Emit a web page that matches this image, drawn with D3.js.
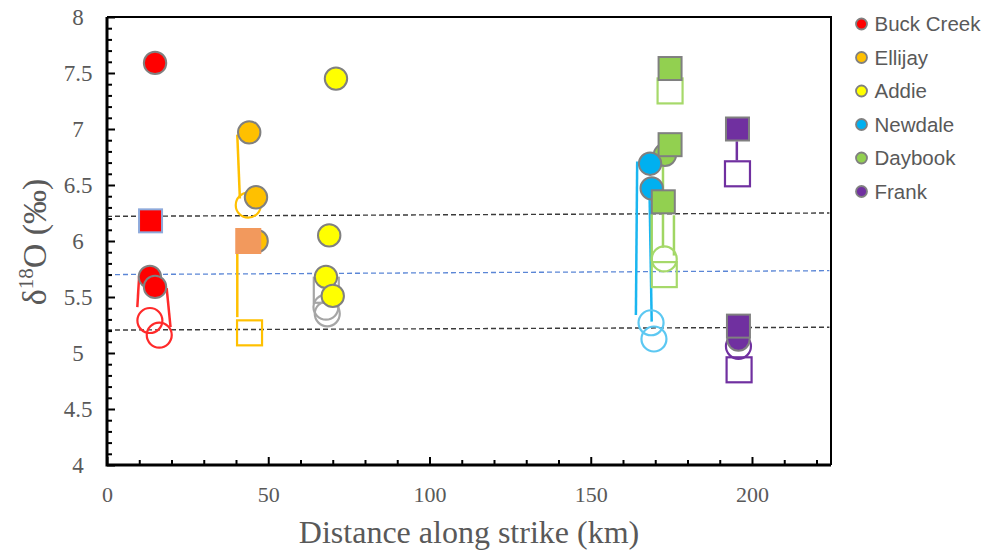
<!DOCTYPE html>
<html>
<head>
<meta charset="utf-8">
<script src="https://cdn.jsdelivr.net/npm/d3@7"></script>
<style>
  html, body { margin: 0; padding: 0; background: #fff; }
  svg { display: block; }
</style>
</head>
<body>
<svg id="chart" width="988" height="550"></svg>
<script>
// Plutons, in legend order
const plutons = ["Buck Creek", "Ellijay", "Addie", "Newdale", "Daybook", "Frank"];

// Filled circles: [pluton, distance (km), δ18O (‰)]
const filledCircles = [
  ["Daybook", 173.0, 6.77],
  ["Buck Creek", 14.9, 7.59],
  ["Buck Creek", 13.3, 5.68],
  ["Buck Creek", 14.9, 5.59],
  ["Ellijay", 44.1, 6.97],
  ["Ellijay", 46.2, 6.39],
  ["Ellijay", 46.4, 6.00],
  ["Addie", 71.0, 7.45],
  ["Addie", 68.9, 6.05],
  ["Addie", 67.9, 5.68],
  ["Addie", 70.0, 5.51],
  ["Newdale", 168.4, 6.69],
  ["Newdale", 168.9, 6.47],
  ["Frank", 195.8, 5.12]
];

// Filled squares
const filledSquares = [
  ["Buck Creek", 13.5, 6.18],
  ["Ellijay", 43.8, 6.00],
  ["Daybook", 174.6, 7.54],
  ["Daybook", 174.6, 6.86],
  ["Daybook", 172.5, 6.35],
  ["Frank", 195.5, 7.00],
  ["Frank", 195.8, 5.24]
];

// Open circles
const openCircles = [
  ["Buck Creek", 13.3, 5.29],
  ["Buck Creek", 16.2, 5.16],
  ["Ellijay", 43.8, 6.32],
  ["Addie", 67.9, 5.41],
  ["Addie", 68.3, 5.35],
  ["Newdale", 168.7, 5.27],
  ["Newdale", 169.6, 5.125],
  ["Daybook", 172.8, 5.84],
  ["Frank", 195.8, 5.06]
];

// Open squares
const openSquares = [
  ["Ellijay", 44.2, 5.18],
  ["Addie", 68.0, 5.56],
  ["Daybook", 174.6, 7.34],
  ["Daybook", 172.8, 5.70],
  ["Frank", 195.5, 6.60],
  ["Frank", 196.0, 4.85]
];

// Tie lines: [pluton, x1, y1, x2, y2]
const tieLines = [
  ["Buck Creek", 10.0, 5.70, 9.4, 5.41],
  ["Buck Creek", 18.5, 5.58, 19.7, 5.23],
  ["Ellijay", 40.4, 6.95, 41.2, 6.38],
  ["Ellijay", 40.4, 5.92, 40.4, 5.32],
  ["Newdale", 164.4, 6.71, 164.0, 5.34],
  ["Newdale", 168.2, 6.485, 168.9, 5.28],
  ["Daybook", 168.9, 6.24, 168.9, 5.82],
  ["Daybook", 172.4, 6.75, 172.4, 5.94],
  ["Daybook", 175.8, 6.23, 175.8, 5.87],
  ["Frank", 195.3, 6.89, 195.3, 6.72]
];

// Reference trend lines across the belt: δ18O at 0 km and at the far end
const refStart = [6.22, 5.70, 5.205];
const refEnd = [6.25, 5.735, 5.23];
const refKm = [0, 224];

// Axis ticks
const xMajorTicks = [0, 50, 100, 150, 200];
const xMinorTicks = d3.range(10, 221, 10).filter(v => v % 50 !== 0);
const yMajorTicks = [4, 4.5, 5, 5.5, 6, 6.5, 7, 7.5, 8];
const yMinorTicks = d3.range(41, 80, 1).map(v => v / 10).filter(v => Math.round(v * 10) % 5 !== 0);

// Colours
const fillColor = {
  "Buck Creek": "#ff0000", "Ellijay": "#ffc000", "Addie": "#ffff00",
  "Newdale": "#00b0f0", "Daybook": "#92d050", "Frank": "#7030a0"
};
const openColor = {
  "Buck Creek": "#ff2a2a", "Ellijay": "#ffc000", "Addie": "#a6a6a6",
  "Newdale": "#5cc8f2", "Daybook": "#a6d96a", "Frank": "#7030a0"
};
const lineColor = {
  "Buck Creek": "#ff2a2a", "Ellijay": "#ffc000", "Addie": "#a6a6a6",
  "Newdale": "#1ab6f0", "Daybook": "#a0d663", "Frank": "#7030a0"
};
const squareFill = { "Ellijay": "#f2995d" };
const squareStroke = { "Buck Creek": "#8eaadb", "Ellijay": "none" };
const markerStroke = "#808080";
const textGray = "#595959";

const svg = d3.select("#chart");
const x = d3.scaleLinear().domain([0, 224.5]).range([107, 831]);
const y = d3.scaleLinear().domain([4, 8]).range([465, 17]);

// reference lines
const refStyles = [
  { stroke: "#3a3a3a", dash: "5,3", w: 1.4 },
  { stroke: "#5b86d6", dash: "5,3", w: 1.3 },
  { stroke: "#3a3a3a", dash: "5,3", w: 1.4 }
];
svg.append("g").selectAll("line").data(refStart).join("line")
  .attr("x1", x(refKm[0])).attr("x2", x(refKm[1]))
  .attr("y1", d => y(d)).attr("y2", (d, i) => y(refEnd[i]))
  .attr("stroke", (d, i) => refStyles[i].stroke)
  .attr("stroke-width", (d, i) => refStyles[i].w)
  .attr("stroke-dasharray", (d, i) => refStyles[i].dash);

// tie lines
svg.append("g").selectAll("line").data(tieLines).join("line")
  .attr("x1", d => x(d[1])).attr("y1", d => y(d[2]))
  .attr("x2", d => x(d[3])).attr("y2", d => y(d[4]))
  .attr("stroke", d => lineColor[d[0]])
  .attr("stroke-width", 2.5);

// open markers
const openR = 12.5, openSide = 25;
svg.append("g").selectAll("circle").data(openCircles).join("circle")
  .attr("cx", d => x(d[1])).attr("cy", d => y(d[2])).attr("r", openR)
  .attr("fill", "none").attr("stroke", d => openColor[d[0]]).attr("stroke-width", 2.2);
svg.append("g").selectAll("rect").data(openSquares).join("rect")
  .attr("x", d => x(d[1]) - openSide / 2).attr("y", d => y(d[2]) - openSide / 2)
  .attr("width", openSide).attr("height", openSide)
  .attr("fill", "none").attr("stroke", d => openColor[d[0]]).attr("stroke-width", 2.2);

// filled markers
svg.append("g").selectAll("circle").data(filledCircles).join("circle")
  .attr("cx", d => x(d[1])).attr("cy", d => y(d[2])).attr("r", 11.2)
  .attr("fill", d => fillColor[d[0]]).attr("stroke", markerStroke).attr("stroke-width", 2);
const sq = 23;
svg.append("g").selectAll("rect").data(filledSquares).join("rect")
  .attr("x", d => x(d[1]) - (d[0] === "Ellijay" ? 13 : sq / 2))
  .attr("y", d => y(d[2]) - (d[0] === "Ellijay" ? 13 : sq / 2))
  .attr("width", d => d[0] === "Ellijay" ? 26 : sq)
  .attr("height", d => d[0] === "Ellijay" ? 26 : sq)
  .attr("fill", d => squareFill[d[0]] || fillColor[d[0]])
  .attr("stroke", d => squareStroke[d[0]] || markerStroke)
  .attr("stroke-width", 2);

// axes with inward ticks
const serif = "'Liberation Serif', 'Times New Roman', serif";
function styleAxis(g) {
  g.select(".domain").remove();
  g.selectAll(".tick line").attr("stroke", "#000").attr("stroke-width", 2);
}
svg.append("g").attr("transform", "translate(0,465)")
  .call(d3.axisBottom(x).tickValues(xMinorTicks).tickSizeInner(-5).tickSizeOuter(0).tickFormat(""))
  .call(styleAxis);
svg.append("g").attr("transform", "translate(0,465)")
  .call(d3.axisBottom(x).tickValues(xMajorTicks).tickSizeInner(-8).tickSizeOuter(0).tickPadding(21).tickFormat(d3.format("d")))
  .call(styleAxis)
  .call(g => g.selectAll("text").attr("fill", textGray).attr("font-family", serif).attr("font-size", 22));

svg.append("g").attr("transform", "translate(107,0)")
  .call(d3.axisLeft(y).tickValues(yMinorTicks).tickSizeInner(-5).tickSizeOuter(0).tickFormat(""))
  .call(styleAxis);
svg.append("g").attr("transform", "translate(107,0)")
  .call(d3.axisLeft(y).tickValues(yMajorTicks).tickSizeInner(-8).tickSizeOuter(0).tickFormat(d => String(d)))
  .call(styleAxis)
  .call(g => g.selectAll("text")
    .attr("x", -29).attr("text-anchor", "middle")
    .attr("fill", textGray).attr("font-family", serif).attr("font-size", 23));

// plot frame
svg.append("path")
  .attr("d", `M${x(0)},${y(8)}H${x(224.5)}V${y(4)}`)
  .attr("fill", "none").attr("stroke", "#000").attr("stroke-width", 2);
svg.append("path")
  .attr("d", `M${x(0)},${y(8)}V${y(4)}H${x(224.5)}`)
  .attr("fill", "none").attr("stroke", "#000").attr("stroke-width", 3);

// axis titles
svg.append("text")
  .attr("x", 469).attr("y", 543).attr("text-anchor", "middle")
  .attr("font-family", serif).attr("font-size", 32).attr("fill", textGray)
  .text("Distance along strike (km)");

const yTitle = svg.append("text")
  .attr("transform", "translate(46,242) rotate(-90)")
  .attr("text-anchor", "middle")
  .attr("font-family", serif).attr("font-size", 34).attr("fill", textGray);
yTitle.append("tspan").text("δ");
yTitle.append("tspan").attr("font-size", 21).attr("dy", -13).text("18");
yTitle.append("tspan").attr("dy", 13).text("O (‰)");

// legend
const legend = svg.append("g").selectAll("g").data(plutons).join("g")
  .attr("transform", (d, i) => `translate(861.5,${24 + i * 33.5})`);
legend.append("circle").attr("r", 5.5)
  .attr("fill", d => fillColor[d]).attr("stroke", markerStroke).attr("stroke-width", 1.8);
legend.append("text").attr("x", 13).attr("dy", "0.35em")
  .attr("font-family", "'Liberation Sans', Arial, sans-serif").attr("font-size", 20.5)
  .attr("fill", textGray).text(d => d);
</script>
</body>
</html>
